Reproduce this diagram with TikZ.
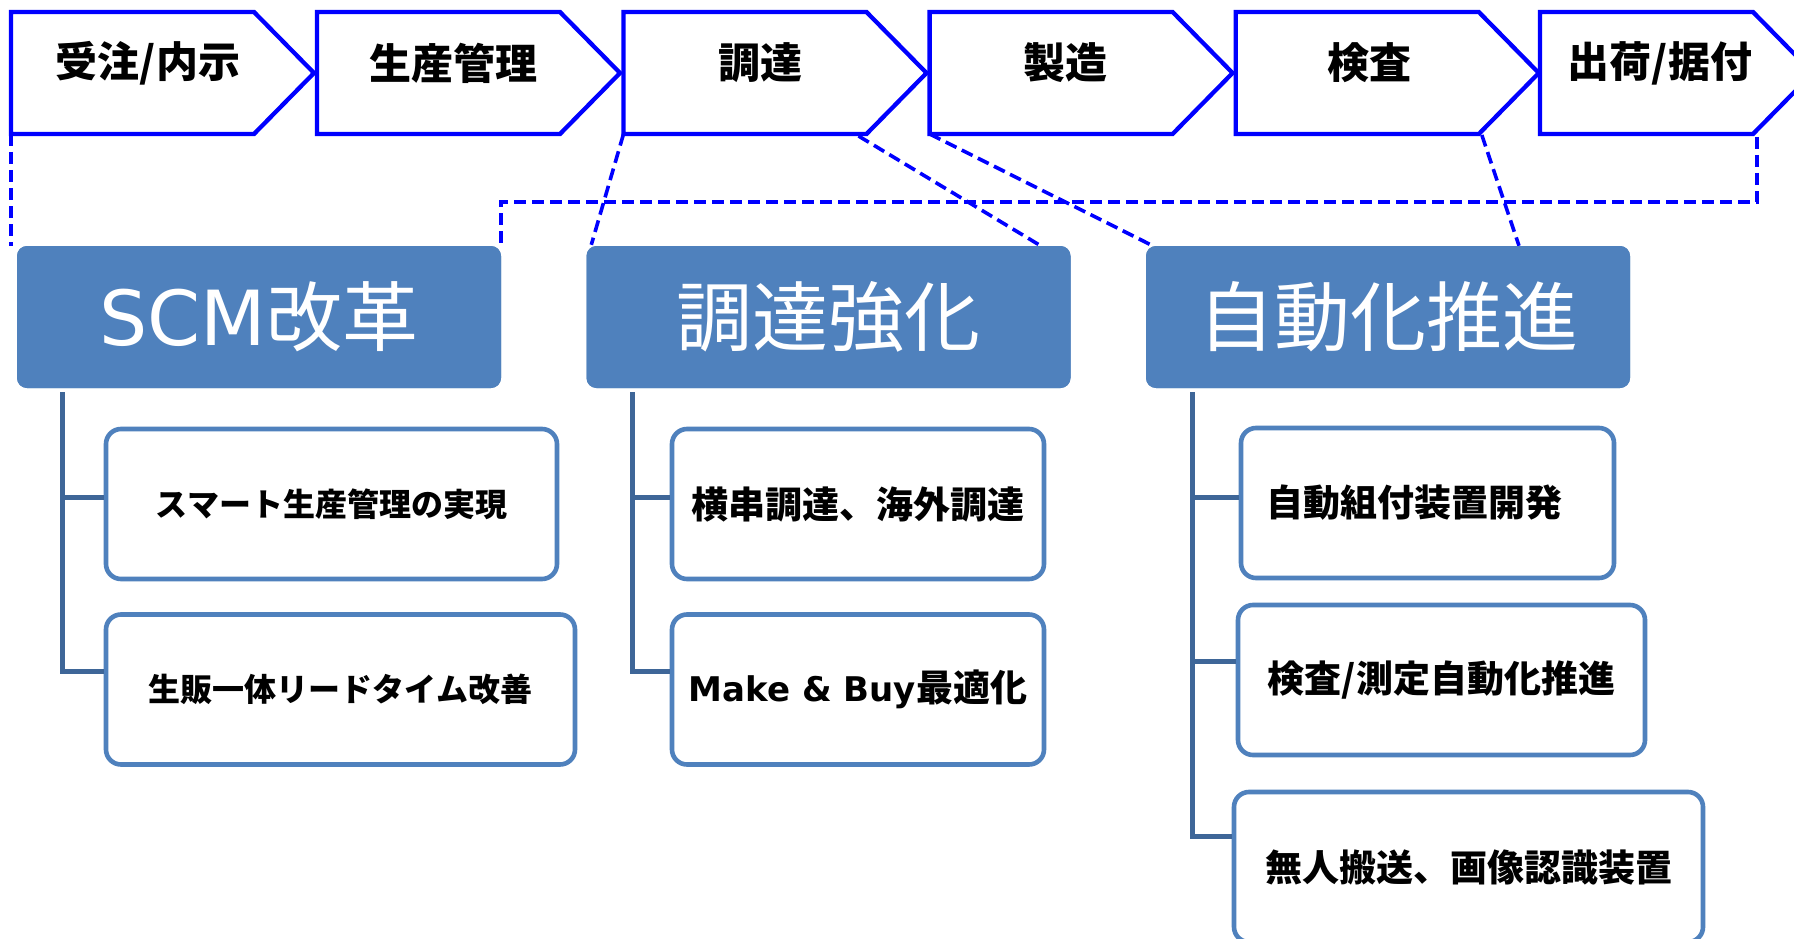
\documentclass[tikz,border=0pt]{standalone}
\usepackage{fontspec}
\setmainfont{Noto Sans CJK JP}
\newfontfamily\dvs{DejaVu Sans}
\usetikzlibrary{calc}
\definecolor{pblue}{RGB}{0,0,255}
\definecolor{mblue}{RGB}{79,129,189}
\definecolor{tblue}{RGB}{62,102,152}
\begin{document}
\begin{tikzpicture}[x=1pt,y=-1pt,
  chev/.style={draw=pblue,line width=4.3pt,fill=white},
  chevtext/.style={font=\bfseries\fontsize{42}{46}\selectfont,inner sep=0pt},
  dline/.style={draw=pblue,line width=3.6pt,dash pattern=on 12pt off 6pt},
  mainbox/.style={fill=mblue,rounded corners=10pt,minimum width=484pt,minimum height=142pt,inner sep=0pt,text=white,font=\fontsize{76}{80}\selectfont},
  subbox/.style={draw=mblue,line width=4.6pt,fill=white,rounded corners=15pt,minimum height=150pt,inner sep=0pt,font=\bfseries\fontsize{37}{40}\selectfont},
  smalltext/.style={font=\bfseries\fontsize{32}{36}\selectfont},
  tree/.style={draw=tblue,line width=5pt}]
\useasboundingbox (0,0) rectangle (1794,939);
\clip (0,0) rectangle (1794,939);
\fill[white] (0,0) rectangle (1794,939);

% main boxes
\node[mainbox] (scm) at (259,317) {{\dvs SCM}改革};
\node[mainbox] (cho) at (828.5,317) {調達強化};
\node[mainbox] (auto) at (1388,317) {自動化推進};

% chevron corner coordinates
\coordinate (c1bl) at (11,134);   \coordinate (c1br) at (254,134);
\coordinate (c3bl) at (623.5,134); \coordinate (c3br) at (866.5,134);
\coordinate (c4bl) at (929.6,134); \coordinate (c5br) at (1478.8,134);
\coordinate (c6br) at (1753,134);

% dashed links (drawn beneath shapes)
\draw[dline] (c1bl) -- (c1bl |- scm.north);
\draw[dline] ($(c6br)+(4,3)$) |- ($(scm.north east)+(0,-44)$) -- ($(scm.north east)+(0,-3)$);
\draw[dline] (c3bl) -- ($(cho.north west)+(5,-1)$);
\draw[dline] ($(c3br)+(-8,2)$) -- ($(cho.north east)+(-30,0)$);
\draw[dline] (c4bl) -- ($(auto.north west)+(7,0)$);
\draw[dline] ($(c5br)+(3,1)$) -- ($(auto.north)+(131,0)$);

% redraw main boxes above dashes
\node[mainbox] at (scm) {{\dvs SCM}改革};
\node[mainbox] at (cho) {調達強化};
\node[mainbox] at (auto) {自動化推進};

% chevrons
\draw[chev] (11,12) -- (254,12) -- (314,73) -- (254,134) -- (11,134) -- cycle;
\draw[chev] (317,12) -- (560,12) -- (620,73) -- (560,134) -- (317,134) -- cycle;
\draw[chev] (623.5,12) -- (866.5,12) -- (926.5,73) -- (866.5,134) -- (623.5,134) -- cycle;
\draw[chev] (929.6,12) -- (1172.6,12) -- (1232.6,73) -- (1172.6,134) -- (929.6,134) -- cycle;
\draw[chev] (1235.8,12) -- (1478.8,12) -- (1538.8,73) -- (1478.8,134) -- (1235.8,134) -- cycle;
\draw[chev] (1540,12) -- (1753,12) -- (1813,73) -- (1753,134) -- (1540,134) -- cycle;
\node[chevtext] (k1) at (148,63) {受注/内示};
\node[chevtext] (k2) at (453,63) {生産管理};
\node[chevtext] (k3) at (760,63) {調達};
\node[chevtext] (k4) at (1065,63) {製造};
\node[chevtext] (k5) at (1369,63) {検査};
\node[chevtext] (k6) at (1660,63) {出荷/据付};

% sub boxes
\node[subbox,smalltext,minimum width=451pt] (s1) at (331.5,504) {スマート生産管理の実現};
\node[subbox,smalltext,minimum width=469pt] (s2) at (340.5,689.5) {生販一体リードタイム改善};
\node[subbox,minimum width=372pt] (t1) at (858,504) {横串調達、海外調達};
\node[subbox,minimum width=372pt] (t2) at (858,689.5) {{\dvs\fontsize{34}{38}\selectfont Make \& Buy}最適化};
\node[subbox,minimum width=373pt] (a1) at (1427.5,503) {\hspace*{-26pt}自動組付装置開発};
\node[subbox,minimum width=407pt] (a2) at (1441.5,680) {検査/測定自動化推進};
\node[subbox,minimum width=469pt] (a3) at (1468.5,867) {無人搬送、画像認識装置};

% tree connectors
\draw[tree] ($(scm.south west)+(46,4)$) |- (s2.west |- 0,671);
\draw[tree] (63,497) -- (s1.west |- 0,497);
\draw[tree] ($(cho.south west)+(46.5,4)$) |- (t2.west |- 0,671);
\draw[tree] (633,497) -- (t1.west |- 0,497);
\draw[tree] ($(auto.south west)+(47,4)$) |- (a3.west |- 0,836);
\draw[tree] (1193,497) -- (a1.west |- 0,497);
\draw[tree] (1193,661) -- (a2.west |- 0,661);
\end{tikzpicture}
\end{document}
